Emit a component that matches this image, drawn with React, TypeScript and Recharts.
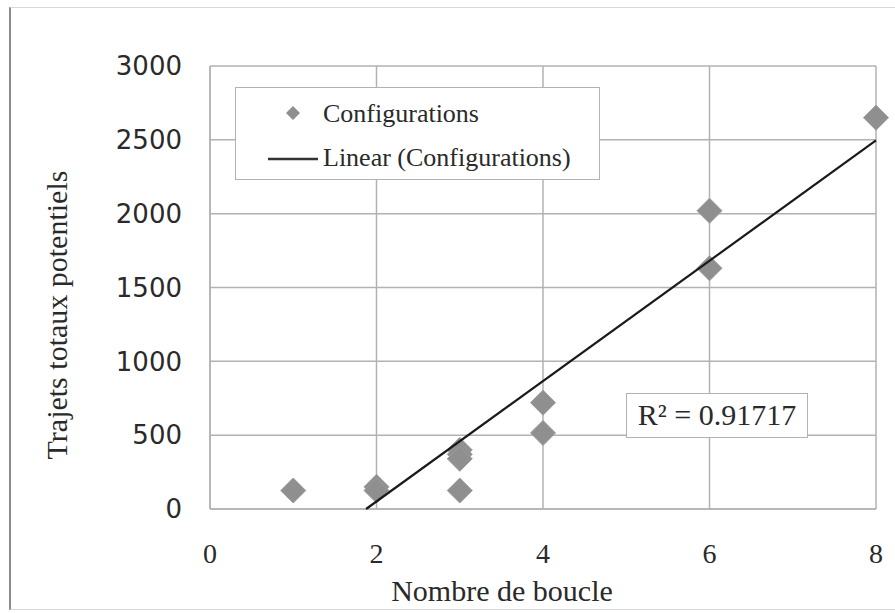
import React from 'react';
import { ScatterChart, Scatter, XAxis, YAxis, CartesianGrid } from 'recharts';

// number of loops vs total potential trips
const boucles = [1, 2, 2, 3, 3, 3, 3, 4, 4, 6, 6, 8];
const trajets = [125, 150, 125, 400, 370, 340, 125, 720, 515, 2020, 1630, 2650];
const xTicks = [0, 2, 4, 6, 8];
const yTicks = [0, 500, 1000, 1500, 2000, 2500, 3000];
const seriesName = 'Configurations';
const trendName = 'Linear (Configurations)';
const r2Text = 'R² = 0.91717';

const points = boucles.map((x, i) => ({ x, y: trajets[i] }));

// least squares fit, like the Excel trendline
const n = boucles.length;
const mx = boucles.reduce((a, b) => a + b, 0) / n;
const my = trajets.reduce((a, b) => a + b, 0) / n;
let sxy = 0;
let sxx = 0;
boucles.forEach((x, i) => {
    sxy += (x - mx) * (trajets[i] - my);
    sxx += (x - mx) * (x - mx);
});
const slope = sxy / sxx;
const intercept = my - slope * mx;
const xMax = Math.max(...boucles);
// the trendline is cut where it leaves the plot at y = 0
const trend = [
    { x: -intercept / slope, y: 0 },
    { x: xMax, y: slope * xMax + intercept },
];

const SERIF = '"Liberation Serif", "Times New Roman", serif';
const SANS = '"DejaVu Sans", sans-serif';
const TEXT = '#2a2a2a';
const GRID = '#b2b2b2';
const MARKER = '#8f8f8f';

// eslint-disable-next-line @typescript-eslint/no-explicit-any
const Diamond = (props: any) => {
    const { cx, cy } = props;
    const r = 12.5;
    return (
        <polygon
            points={`${cx},${cy - r} ${cx + r},${cy} ${cx},${cy + r} ${cx - r},${cy}`}
            fill={MARKER}
            stroke="#9c9c9c"
            strokeWidth={1}
        />
    );
};

const NoDot = () => <g />;

const LegendBox = () => (
    <div
        style={{
            position: 'absolute',
            left: 235,
            top: 87,
            width: 365,
            height: 93,
            boxSizing: 'border-box',
            border: `1.5px solid ${GRID}`,
            background: '#fff',
            fontFamily: SERIF,
            fontSize: 26,
            color: TEXT,
        }}
    >
        <svg width={365} height={93} style={{ position: 'absolute', left: 0, top: 0 }}>
            <polygon points="57,18 64,25 57,32 50,25" fill={MARKER} />
            <line x1={32} x2={82} y1={71} y2={71} stroke="#333" strokeWidth={2.5} />
        </svg>
        <div style={{ position: 'absolute', left: 87, top: 11, lineHeight: '30px' }}>{seriesName}</div>
        <div style={{ position: 'absolute', left: 87, top: 55, lineHeight: '30px' }}>{trendName}</div>
    </div>
);

const App: React.FC = () => {
    return (
        <div style={{ position: 'absolute', left: 0, top: 0, width: 895, height: 613, background: '#fff' }}>
            <div
                style={{
                    position: 'absolute',
                    left: 9,
                    top: 7,
                    width: 900,
                    height: 603,
                    borderLeft: '2.5px solid #8a8a8a',
                    borderTop: '1.5px solid #d8d8d8',
                    borderBottom: '1.5px solid #d8d8d8',
                    boxSizing: 'border-box',
                }}
            />
            <ScatterChart
                width={895}
                height={613}
                margin={{ top: 66, right: 19, left: 0, bottom: 0 }}
                style={{ position: 'absolute', left: 0, top: 0 }}
            >
                <CartesianGrid stroke={GRID} strokeWidth={1.5} />
                <XAxis
                    type="number"
                    dataKey="x"
                    domain={[0, 8]}
                    ticks={xTicks}
                    height={104}
                    tickLine={false}
                    tickSize={0}
                    tickMargin={34}
                    axisLine={{ stroke: GRID, strokeWidth: 1.5 }}
                    tick={{ fontFamily: SERIF, fontSize: 28, fill: TEXT }}
                    label={{
                        content: () => (
                            <text x={502} y={590} dy="0.35em" textAnchor="middle" fontFamily={SERIF} fontSize={30} fill={TEXT}>
                                Nombre de boucle
                            </text>
                        ),
                    }}
                />
                <YAxis
                    type="number"
                    dataKey="y"
                    domain={[0, 3000]}
                    ticks={yTicks}
                    width={210}
                    tickLine={false}
                    tickSize={0}
                    tickMargin={28}
                    axisLine={{ stroke: GRID, strokeWidth: 1.5 }}
                    tick={{ fontFamily: SANS, fontSize: 26, fill: TEXT }}
                    label={{
                        content: () => (
                            <text
                                x={56}
                                y={315}
                                dy="0.35em"
                                textAnchor="middle"
                                transform="rotate(-90 56 315)"
                                fontFamily={SERIF}
                                fontSize={30}
                                fill={TEXT}
                            >
                                Trajets totaux potentiels
                            </text>
                        ),
                    }}
                />
                <Scatter name={seriesName} data={points} shape={<Diamond />} isAnimationActive={false} />
                <Scatter
                    name={trendName}
                    data={trend}
                    line={{ stroke: '#1a1a1a', strokeWidth: 2.2 }}
                    shape={<NoDot />}
                    legendType="line"
                    isAnimationActive={false}
                />
            </ScatterChart>
            <LegendBox />
            <div
                style={{
                    position: 'absolute',
                    left: 626,
                    top: 393,
                    width: 182,
                    height: 45,
                    boxSizing: 'border-box',
                    border: `1.5px solid ${GRID}`,
                    background: '#fff',
                    fontFamily: SERIF,
                    fontSize: 30,
                    color: TEXT,
                    textAlign: 'center',
                    lineHeight: '42px',
                }}
            >
                {r2Text}
            </div>
        </div>
    );
};

export default App;
